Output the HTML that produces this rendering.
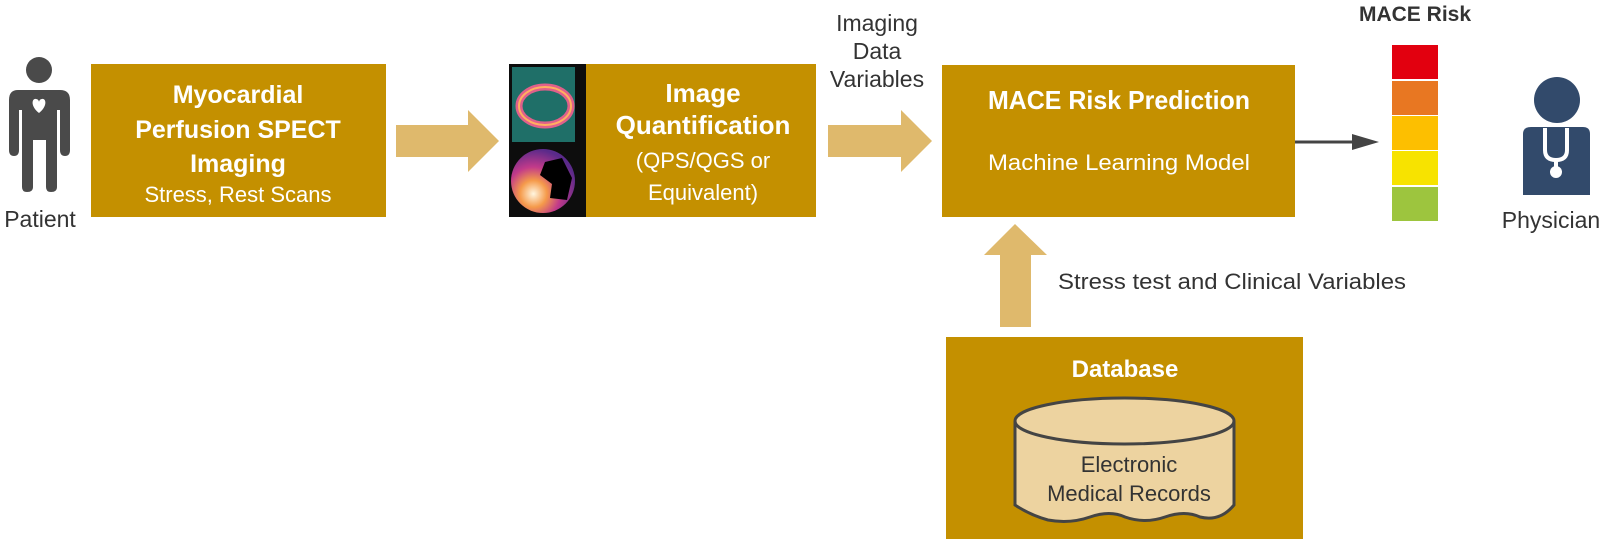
<!DOCTYPE html>
<html><head><meta charset="utf-8"><style>
html,body{margin:0;padding:0;background:#fff;}
svg{display:block;}
text{font-family:"Liberation Sans","DejaVu Sans",sans-serif;}
</style></head><body>
<svg width="1600" height="539" viewBox="0 0 1600 539" xmlns="http://www.w3.org/2000/svg">
<defs>
<radialGradient id="pm" cx="0.35" cy="0.7" r="0.7">
<stop offset="0" stop-color="#fff6e0"/><stop offset="0.3" stop-color="#f59a4a"/><stop offset="0.6" stop-color="#c23a8a"/><stop offset="1" stop-color="#5a2a8a"/>
</radialGradient>
</defs>
<!-- Patient -->
<g fill="#4a4a4a">
<circle cx="39" cy="70" r="13"/>
<path d="M18 90 H60 Q70 90 70 100 V150 Q70 156 65 156 Q60 156 60 150 V110 H57 V187 Q57 192 51 192 Q46 192 46 187 V140 H33 V187 Q33 192 27 192 Q22 192 22 187 V110 H19 V150 Q19 156 14 156 Q9 156 9 150 V100 Q9 90 18 90 Z"/>
</g>
<path d="M39 113 C30 106 32 98 36 99 C38 99 39 101 39 102 C39 101 40 99 42 99 C46 98 48 106 39 113 Z" fill="#fff"/>
<text x="40" y="227" font-size="23" fill="#333" text-anchor="middle">Patient</text>

<!-- Box1 -->
<rect x="91" y="64" width="295" height="153" fill="#c49000"/>
<g fill="#fff" text-anchor="middle">
<text x="238" y="103" font-size="25" font-weight="bold">Myocardial</text>
<text x="238" y="138" font-size="25" font-weight="bold">Perfusion SPECT</text>
<text x="238" y="172" font-size="25" font-weight="bold">Imaging</text>
<text x="238" y="202" font-size="22">Stress, Rest Scans</text>
</g>
<!-- Arrow1 -->
<path d="M396 125 H468 V110 L499 141 L468 172 V157 H396 Z" fill="#dfb96c"/>

<!-- image -->
<rect x="509" y="64" width="77" height="153" fill="#0d0d0d"/>
<rect x="512" y="67" width="63" height="75" fill="#1f6f68"/>
<ellipse cx="545" cy="106" rx="26" ry="19" fill="none" stroke="#e0608a" stroke-width="7"/>
<ellipse cx="545" cy="106" rx="26" ry="19" fill="none" stroke="#ffb060" stroke-width="2"/>
<circle cx="543" cy="181" r="32" fill="url(#pm)"/>
<path d="M545 162 L562 158 L572 178 L567 200 L550 198 L552 184 L540 175 Z" fill="#000"/>

<!-- Box2 -->
<rect x="586" y="64" width="230" height="153" fill="#c49000"/>
<g fill="#fff" text-anchor="middle">
<text x="703" y="102" font-size="26" font-weight="bold">Image</text>
<text x="703" y="134" font-size="26" font-weight="bold">Quantification</text>
<text x="703" y="168" font-size="22">(QPS/QGS or</text>
<text x="703" y="200" font-size="22">Equivalent)</text>
</g>
<!-- Imaging data variables -->
<g fill="#333" text-anchor="middle" font-size="23">
<text x="877" y="31">Imaging</text>
<text x="877" y="59">Data</text>
<text x="877" y="87">Variables</text>
</g>
<!-- Arrow2 -->
<path d="M828 125 H901 V110 L932 141 L901 172 V157 H828 Z" fill="#dfb96c"/>

<!-- Box3 -->
<rect x="942" y="65" width="353" height="152" fill="#c49000"/>
<text x="988" y="109" font-size="26" font-weight="bold" fill="#fff" textLength="262" lengthAdjust="spacingAndGlyphs">MACE Risk Prediction</text>
<text x="988" y="170" font-size="22" fill="#fff" textLength="262" lengthAdjust="spacingAndGlyphs">Machine Learning Model</text>

<!-- black arrow -->
<line x1="1295" y1="142" x2="1354" y2="142" stroke="#444" stroke-width="3"/>
<path d="M1352 134 L1379 142 L1352 150 Z" fill="#444"/>

<!-- Risk bar -->
<text x="1415" y="21" font-size="21" font-weight="bold" fill="#333" text-anchor="middle">MACE Risk</text>
<rect x="1392" y="45" width="46" height="34" fill="#e2000f"/>
<rect x="1392" y="81" width="46" height="34" fill="#e87722"/>
<rect x="1392" y="116" width="46" height="34" fill="#fdbf00"/>
<rect x="1392" y="151" width="46" height="34" fill="#f7e300"/>
<rect x="1392" y="187" width="46" height="34" fill="#9dc53e"/>

<!-- Physician -->
<circle cx="1557" cy="100" r="23" fill="#324a6b"/>
<path d="M1531 127 H1583 Q1590 127 1590 134 V195 H1523 V134 Q1523 127 1531 127 Z" fill="#324a6b"/>
<path d="M1545 128 V150 Q1545 160 1556 160 Q1567 160 1567 150 V128" fill="none" stroke="#fff" stroke-width="4"/>
<line x1="1556" y1="160" x2="1556" y2="168" stroke="#fff" stroke-width="4"/>
<circle cx="1556" cy="172" r="6" fill="#fff"/>
<text x="1551" y="228" font-size="23" fill="#333" text-anchor="middle">Physician</text>

<!-- Up arrow -->
<path d="M1000 327 V255 H984 L1015 224 L1047 255 H1031 V327 Z" fill="#dfb96c"/>
<text x="1058" y="289" font-size="22" fill="#333" textLength="348" lengthAdjust="spacingAndGlyphs">Stress test and Clinical Variables</text>

<!-- DB box -->
<rect x="946" y="337" width="357" height="202" fill="#c49000"/>
<text x="1125" y="377" font-size="24" font-weight="bold" fill="#fff" text-anchor="middle">Database</text>
<path d="M1015 421 V505 Q1030 515 1048 520 Q1070 524 1090 517 Q1110 510 1125 517 Q1145 524 1165 517 Q1185 510 1200 517 Q1220 522 1234 505 V421" fill="#edd3a0" stroke="#444" stroke-width="3"/>
<ellipse cx="1124.5" cy="421" rx="109.5" ry="23" fill="#edd3a0" stroke="#444" stroke-width="3"/>
<g fill="#333" text-anchor="middle" font-size="22">
<text x="1129" y="472">Electronic</text>
<text x="1129" y="501">Medical Records</text>
</g>
</svg>
</body></html>
